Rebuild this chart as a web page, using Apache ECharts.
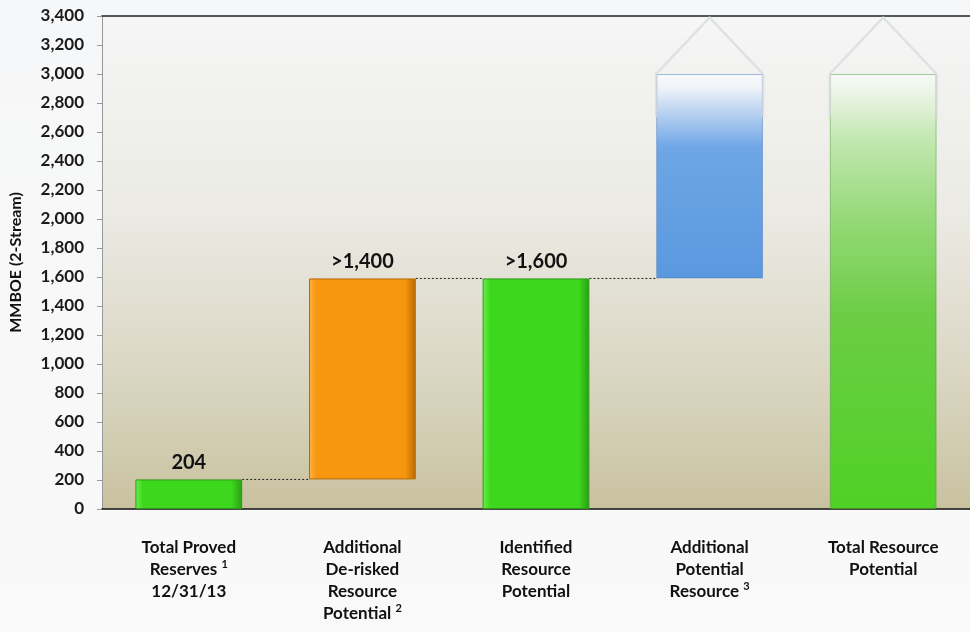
<!DOCTYPE html>
<html>
<head>
<meta charset="utf-8">
<script src="https://cdn.jsdelivr.net/npm/echarts@6/dist/echarts.min.js"></script>
<style>
html,body{margin:0;padding:0;background:linear-gradient(180deg,#f6f7f8 0%,#f9f9f9 100%);}
#c{width:970px;height:632px;}
</style>
</head>
<body>
<div id="c"></div>
<script>
const categories = [
  'Total Proved\nReserves \u00b9\n12/31/13',
  'Additional\nDe-risked\nResource\nPotential \u00b2',
  'Identified\nResource\nPotential',
  'Additional\nPotential\nResource \u00b3',
  'Total Resource\nPotential'
];
const baseValues = [0, 204, 0, 1590, 0];
const topValues = [204, 1590, 1590, 3000, 3000];
const barLabels = ['204', '>1,400', '>1,600', '', ''];
const connectors = [[0, 1, 204], [1, 2, 1590], [2, 3, 1590]];
const arrowHeads = [[3, 3000, 3390], [4, 3000, 3390]];
const yMin = 0, yMax = 3400, yStep = 200;

const FONT = 'Lato, "Open Sans", sans-serif';
const BAR_FRAC = 0.615;
const SUP = {'\u00b9':'1', '\u00b2':'2', '\u00b3':'3'};

function hGrad(light, main, dark) {
  return {type:'linear', x:0, y:0, x2:1, y2:0, colorStops:[
    {offset:0, color:light},{offset:0.07, color:main},{offset:0.9, color:main},{offset:1, color:dark}]};
}
const barStyles = [
  {color: hGrad('#6cf04a', '#3dd71d', '#2a9e14'), borderColor:'#2d9a17', borderWidth:1},
  {color: hGrad('#ffb347', '#f7960f', '#b86a06'), borderColor:'#b56a0a', borderWidth:1},
  {color: hGrad('#6cf04a', '#3dd71d', '#2a9e14'), borderColor:'#2d9a17', borderWidth:1},
  {color: {type:'linear', x:0, y:0, x2:0, y2:1, colorStops:[
    {offset:0, color:'rgba(250,251,252,0.9)'},
    {offset:0.07, color:'#eef2f8'},
    {offset:0.2, color:'#b4cff0'},
    {offset:0.36, color:'#6ea6e6'},
    {offset:1, color:'#5a98de'}]}, borderColor:'rgba(70,120,190,0.5)', borderWidth:1},
  {color: {type:'linear', x:0, y:0, x2:0, y2:1, colorStops:[
    {offset:0, color:'rgba(248,250,248,0.9)'},
    {offset:0.05, color:'#e9f4e3'},
    {offset:0.15, color:'#c2e8b0'},
    {offset:0.32, color:'#98da7b'},
    {offset:0.55, color:'#6ccd45'},
    {offset:1, color:'#4fd125'}]}, borderColor:'rgba(60,150,40,0.45)', borderWidth:1}
];

const chart = echarts.init(document.getElementById('c'));
chart.setOption({
  animation:false,
  grid:{left:101, right:0, top:16, bottom:123, show:true, borderWidth:0,
    backgroundColor:{type:'linear', x:0, y:0, x2:0, y2:1, colorStops:[
      {offset:0, color:'#f5f6f6'},{offset:0.4, color:'#ebeae4'},{offset:0.7, color:'#dcd8c6'},{offset:1, color:'#c9c2a0'}]}},
  xAxis:[{
    type:'category', data:categories,
    axisLine:{lineStyle:{color:'#111', width:1.5}},
    axisTick:{show:false},
    axisLabel:{interval:0, color:'#111', fontFamily:FONT, fontWeight:'bold', fontSize:17, lineHeight:22, margin:28, verticalAlign:'top',
      formatter: v => v.split('\n').map(line => line.replace(/[\u00b9\u00b2\u00b3]/g, m => '{s|' + SUP[m] + '}')).map(l => l.indexOf('{s|') >= 0 ? l.replace(/^(.*?) ?\{s\|/, '{n|$1 }{s|') : '{n|' + l + '}').join('\n'),
      rich:{
        n:{color:'#111', fontFamily:FONT, fontWeight:'bold', fontSize:17, lineHeight:22},
        s:{color:'#111', fontFamily:FONT, fontWeight:'bold', fontSize:11, lineHeight:22, verticalAlign:'top', padding:[0,0,8,0]}
      }}
  },{
    type:'category', data:categories, position:'top',
    axisLine:{lineStyle:{color:'#222', width:1.5}}, axisTick:{show:false}, axisLabel:{show:false}
  }],
  yAxis:{
    type:'value', min:yMin, max:yMax, interval:yStep,
    name:'MMBOE (2-Stream)', nameLocation:'middle', nameGap:78, nameRotate:90,
    nameTextStyle:{color:'#111', fontFamily:FONT, fontWeight:'bold', fontSize:16},
    axisLine:{show:true, lineStyle:{color:'#999'}},
    axisTick:{show:true, length:5, lineStyle:{color:'#999'}},
    splitLine:{show:false},
    axisLabel:{color:'#1a1a1a', fontFamily:FONT, fontWeight:'bold', fontSize:17, margin:18,
      formatter:v => v.toLocaleString('en-US')}
  },
  series:[
    {type:'bar', stack:'w', data:baseValues, barWidth:(BAR_FRAC*100)+'%',
      itemStyle:{color:'transparent'}, silent:true},
    {type:'bar', stack:'w', barWidth:(BAR_FRAC*100)+'%',
      data: topValues.map((t,i) => ({value:t-baseValues[i], itemStyle:barStyles[i]})),
      label:{show:true, position:'top', distance:7, color:'#111', fontFamily:FONT, fontWeight:'bold', fontSize:20,
        formatter:p => barLabels[p.dataIndex]}},
    {type:'custom', data:connectors, z:1,
      renderItem:(params, api) => {
        const a = api.coord([api.value(0), api.value(2)]);
        const b = api.coord([api.value(1), api.value(2)]);
        const w = api.size([1,0])[0]*BAR_FRAC;
        return {type:'line', shape:{x1:a[0]+w/2, y1:a[1], x2:b[0]-w/2, y2:b[1]},
          style:{stroke:'#222', lineWidth:1, lineDash:[2,2]}};
      }},
    {type:'custom', data:arrowHeads, z:3,
      renderItem:(params, api) => {
        const c = api.coord([api.value(0), api.value(1)]);
        const apex = api.coord([api.value(0), api.value(2)]);
        const low = api.coord([api.value(0), api.value(1)-300]);
        const w = api.size([1,0])[0]*BAR_FRAC;
        return {type:'polyline', shape:{points:[
          [c[0]-w/2, low[1]], [c[0]-w/2, c[1]], [apex[0], apex[1]], [c[0]+w/2, c[1]], [c[0]+w/2, low[1]]]},
          style:{stroke:'rgba(215,218,220,0.75)', lineWidth:2.5, fill:null}};
      }}
  ]
});
</script>
</body>
</html>
